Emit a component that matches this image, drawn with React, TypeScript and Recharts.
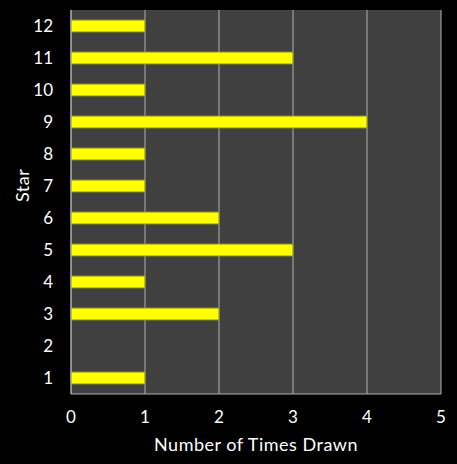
import React from 'react';
import { BarChart, Bar, XAxis, YAxis, CartesianGrid } from 'recharts';

const stars = ['1', '2', '3', '4', '5', '6', '7', '8', '9', '10', '11', '12'];
const timesDrawn = [1, 0, 2, 1, 3, 2, 1, 1, 4, 1, 3, 1];
const xTicks = [0, 1, 2, 3, 4, 5];

const data = stars.map((star, i) => ({ star, count: timesDrawn[i] }));

const font = 'Lato, "Open Sans", sans-serif';

export default function App() {
  return (
    <div style={{ position: 'absolute', left: 0, top: 0, width: 457, height: 464, background: '#000' }}>
      <BarChart
        width={457}
        height={464}
        data={data}
        layout="vertical"
        margin={{ top: 10, right: 16, bottom: 0, left: 0 }}
      >
        <CartesianGrid horizontal={false} fill="#404040" fillOpacity={1} stroke="#b0b0b0" strokeWidth={1} />
        <XAxis
          type="number"
          domain={[0, 5]}
          ticks={xTicks}
          height={70}
          tickSize={0}
          tickMargin={17}
          stroke="#b0b0b0"
          tick={{ fill: '#ffffff', fontSize: 17, fontFamily: font }}
          label={{ value: 'Number of Times Drawn', position: 'insideBottom', offset: 13, fill: '#ffffff', fontSize: 18, fontFamily: font, letterSpacing: 0.5 }}
        />
        <YAxis
          type="category"
          dataKey="star"
          reversed
          width={71}
          tickSize={0}
          tickMargin={18}
          stroke="#b0b0b0"
          tick={{ fill: '#ffffff', fontSize: 17, fontFamily: font }}
          label={{ value: 'Star', angle: -90, position: 'insideLeft', offset: 23, fill: '#ffffff', fontSize: 18, fontFamily: font, letterSpacing: 0.5 }}
        />
        <Bar dataKey="count" barSize={12} fill="#ffff00" stroke="#8a8a1a" strokeWidth={1} isAnimationActive={false} />
      </BarChart>
    </div>
  );
}
